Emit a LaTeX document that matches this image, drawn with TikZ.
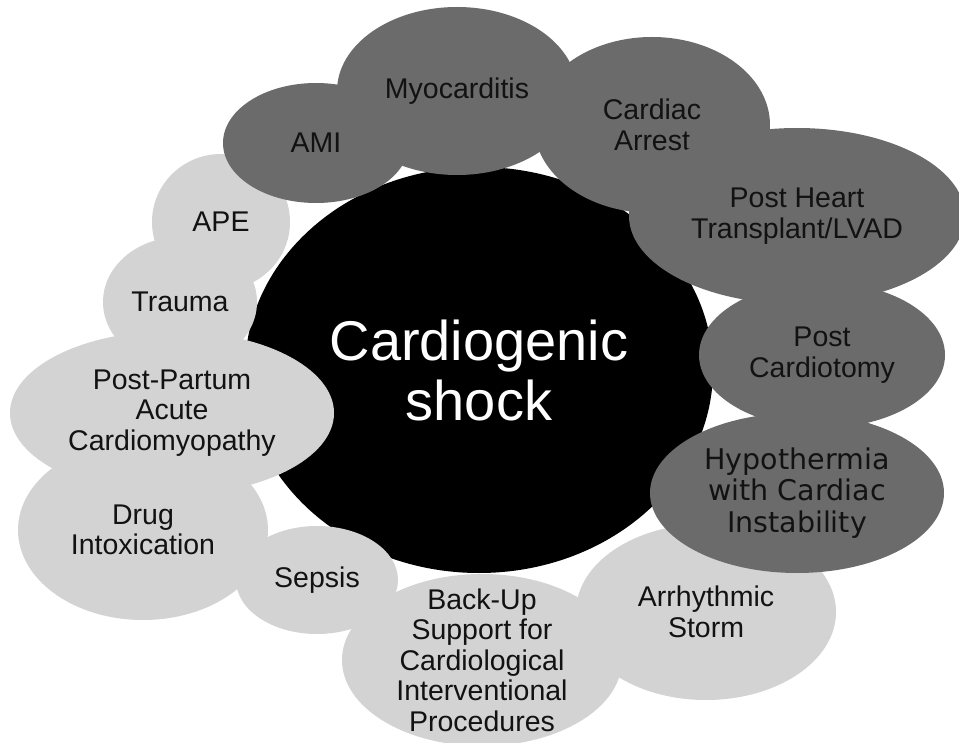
\documentclass[tikz,border=0pt]{standalone}
\usepackage{fontspec}
\setmainfont{Liberation Sans}
\newfontfamily\widefont{DejaVu Sans}
\usetikzlibrary{shapes.geometric}
\definecolor{Core}{HTML}{000000}
\definecolor{Slate}{HTML}{6B6B6B}
\definecolor{Silver}{HTML}{D3D3D3}
\definecolor{Ink}{HTML}{121212}
\tikzset{
  hub/.style={ellipse,fill=Core,inner sep=0pt,align=center,text=white,font=\fontsize{56}{60}\selectfont},
  dark/.style={ellipse,fill=Slate,inner sep=0pt,align=center,text=Ink,font=\fontsize{28.5}{30.5}\selectfont},
  pale/.style={ellipse,fill=Silver,inner sep=0pt,align=center,text=Ink,font=\fontsize{28.5}{30.5}\selectfont},
}

\begin{document}
\begin{tikzpicture}[x=1pt,y=-1pt]
    \useasboundingbox (0,0) rectangle (959,743);

    \node[hub,minimum width=468pt,minimum height=406pt] (shock) at (479,370) {Cardiogenic\\shock};

    \node[pale,minimum width=138pt,minimum height=136pt] (ape) at (221,222) {APE};
    \node[pale,minimum width=154pt,minimum height=130pt] (trauma) at (180,302) {Trauma};
    \node[pale,minimum width=250pt,minimum height=180pt] (drug) at (143,530) {Drug\\Intoxication};
    \node[pale,minimum width=324pt,minimum height=164pt] (partum) at (172,413) {Post-Partum\\Acute\\Cardiomyopathy};
    \node[pale,minimum width=162pt,minimum height=108pt] (sepsis) at (317,580) {Sepsis};
    \node[pale,minimum width=280pt,minimum height=172pt,inner sep=-12pt] (backup) at (482,660)
      {Back-Up\\Support for\\Cardiological\\Interventional\\Procedures};
    \node[pale,minimum width=260pt,minimum height=176pt] (storm) at (706,612) {Arrhythmic\\Storm};

    \node[dark,minimum width=186pt,minimum height=120pt] (ami) at (316,143) {AMI};
    \node[dark,minimum width=240pt,minimum height=168pt] (myo) at (457,91) {Myocarditis};
    \node[dark,minimum width=236pt,minimum height=176pt] (arrest) at (652,125) {Cardiac\\Arrest};
    \node[dark,minimum width=336pt,minimum height=176pt] (heart) at (797,216) {Post Heart\\Transplant/LVAD};
    \node[dark,minimum width=246pt,minimum height=146pt] (tomy) at (822,355) {Post\\Cardiotomy};
    \node[dark,minimum width=294pt,minimum height=160pt,font=\widefont\fontsize{28.5}{31.5}\selectfont] (hypo) at (797,493)
      {Hypothermia\\with Cardiac\\Instability};
\end{tikzpicture}
\end{document}
